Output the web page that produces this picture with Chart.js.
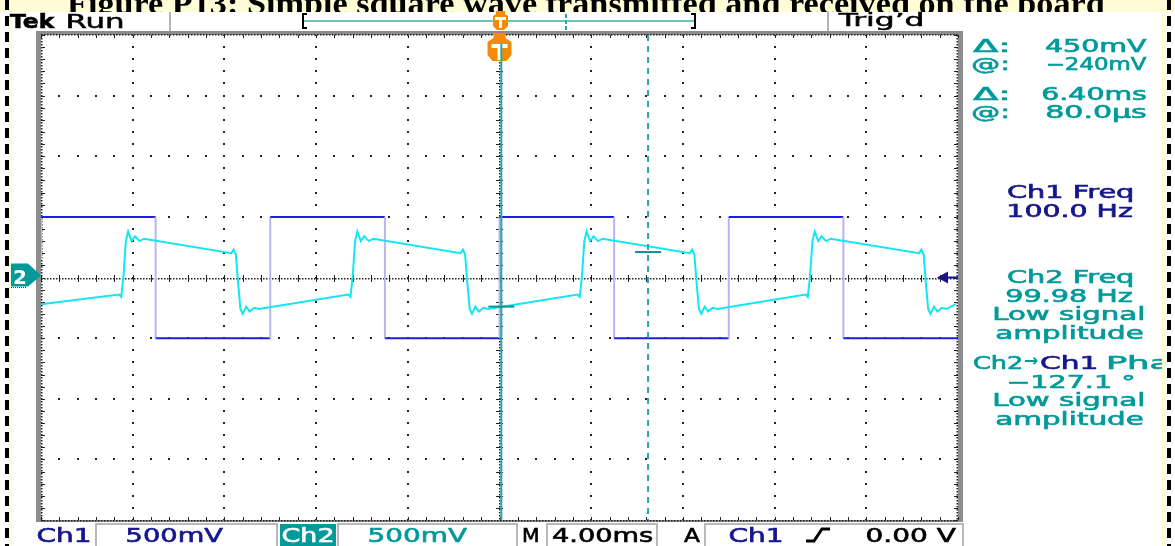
<!DOCTYPE html>
<html>
<head>
<meta charset="utf-8">
<style>
  html, body { margin: 0; padding: 0; background: #fff; }
  canvas { display: block; }
</style>
<script src="https://cdn.jsdelivr.net/npm/chart.js@4.4.1/dist/chart.umd.min.js"></script>
</head>
<body>
<canvas id="scope" width="1175" height="546"></canvas>
<script>
// screen capture values: time in ms (4 ms/div), voltage in V (500 mV/div)
const timeDivs = [-20, -16, -12, -8, -4, 0, 4, 8, 12, 16, 20];
const voltDivs = [-2, -1.5, -1, -0.5, 0, 0.5, 1, 1.5, 2];
const SUBDIV = 5;

// Ch1 - transmitted square wave
const ch1Time = [-20, -20, -15, -15, -10, -10, -5, -5, 0, 0, 5, 5, 10, 10, 15, 15, 20];
const ch1Volt = [0.15, 0.5, 0.5, -0.5, -0.5, 0.5, 0.5, -0.5, -0.5, 0.5, 0.5, -0.5, -0.5, 0.5, 0.5, -0.5, -0.5];

// Ch2 - received signal
const ch2Time = [
  -20.0, -16.6, -16.5, -16.4, -16.3, -16.2, -16.05, -15.9, -15.7, -15.5,
  -11.7, -11.6, -11.5, -11.4, -11.3, -11.2, -11.05, -10.9, -10.7, -10.5,
  -6.6, -6.5, -6.4, -6.3, -6.2, -6.05, -5.9, -5.7, -5.5,
  -1.7, -1.6, -1.5, -1.4, -1.3, -1.2, -1.05, -0.9, -0.7, -0.5,
  3.4, 3.5, 3.6, 3.7, 3.8, 3.95, 4.1, 4.3, 4.5,
  8.3, 8.4, 8.5, 8.6, 8.7, 8.8, 8.95, 9.1, 9.3, 9.5,
  13.35, 13.45, 13.55, 13.65, 13.75, 13.9, 14.05, 14.25, 14.45,
  18.3, 18.4, 18.5, 18.6, 18.7, 18.8, 18.95, 19.1, 19.3, 19.5, 19.9
];
const ch2Volt = [
  -0.22, -0.14, -0.16, 0.02, 0.30, 0.38, 0.30, 0.34, 0.30, 0.32,
  0.20, 0.23, 0.19, -0.05, -0.26, -0.30, -0.24, -0.28, -0.25, -0.26,
  -0.14, -0.16, 0.02, 0.30, 0.38, 0.30, 0.34, 0.30, 0.32,
  0.20, 0.23, 0.19, -0.05, -0.26, -0.30, -0.24, -0.28, -0.25, -0.26,
  -0.14, -0.16, 0.02, 0.30, 0.38, 0.30, 0.34, 0.30, 0.32,
  0.20, 0.23, 0.19, -0.05, -0.26, -0.30, -0.24, -0.28, -0.25, -0.26,
  -0.14, -0.16, 0.02, 0.30, 0.38, 0.30, 0.34, 0.30, 0.32,
  0.20, 0.23, 0.19, -0.05, -0.26, -0.30, -0.24, -0.28, -0.25, -0.26, -0.22
];

// cursors (solid one at 80.0us, dashed one 6.40 ms later) and where they cross Ch2
const cursorTime = [0.08, 6.48];
const cursorVolt = [-0.24, 0.21];
const triggerTime = 0;
const triggerLevel = 0;

const TITLE = 'Figure P13: Simple square wave transmitted and received on the board';
const UI = "'DejaVu Sans', sans-serif";
const TEAL = '#009a9a';
const NAVY = '#16168e';

function pts(xs, ys) {
  return xs.map((x, i) => ({ x: x, y: ys[i] }));
}

// draw text so that its ink spans [x, x + w]
function fitText(ctx, s, x, base, w, font, color, thick) {
  ctx.save();
  ctx.font = font;
  ctx.textAlign = 'left';
  ctx.textBaseline = 'alphabetic';
  const m = ctx.measureText(s);
  const ink = m.actualBoundingBoxLeft + m.actualBoundingBoxRight;
  ctx.translate(x, base);
  ctx.scale(w / ink, 1);
  ctx.fillStyle = color;
  ctx.fillText(s, m.actualBoundingBoxLeft, 0);
  if (thick) {
    ctx.strokeStyle = color;
    ctx.lineWidth = thick;
    ctx.strokeText(s, m.actualBoundingBoxLeft, 0);
  }
  ctx.restore();
}

const backdrop = {
  id: 'backdrop',
  beforeDraw(chart) {
    const ctx = chart.ctx;
    ctx.save();
    ctx.fillStyle = '#fffcd6';
    ctx.fillRect(0, 0, 1175, 12);
    fitText(ctx, TITLE, 67, 14, 1038, 'bold 32px "Liberation Serif", serif', '#000');
    ctx.fillStyle = '#fff';
    ctx.fillRect(0, 12, 1175, 534);
    ctx.fillStyle = '#fffcd6';
    ctx.fillRect(9, 12, 3, 534);
    ctx.fillRect(1162, 12, 4, 534);
    ctx.strokeStyle = '#000';
    ctx.lineWidth = 4;
    ctx.setLineDash([10, 6]);
    ctx.beginPath();
    ctx.moveTo(7, 0); ctx.lineTo(7, 546);
    ctx.moveTo(1169, 0); ctx.lineTo(1169, 546);
    ctx.stroke();
    ctx.restore();
  }
};

const graticule = {
  id: 'graticule',
  beforeDatasetsDraw(chart) {
    const ctx = chart.ctx;
    const { left, right, top, bottom } = chart.chartArea;
    const xs = chart.scales.x, ys = chart.scales.y;
    const tStep = (timeDivs[1] - timeDivs[0]) / SUBDIV;
    const vStep = (voltDivs[1] - voltDivs[0]) / SUBDIV;
    const tMinor = [], vMinor = [];
    for (let i = 0; i <= (timeDivs.length - 1) * SUBDIV; i++) tMinor.push(timeDivs[0] + i * tStep);
    for (let i = 0; i <= (voltDivs.length - 1) * SUBDIV; i++) vMinor.push(voltDivs[0] + i * vStep);
    const cx = Math.round(xs.getPixelForValue(triggerTime));
    const cy = Math.round(ys.getPixelForValue(0));
    ctx.save();
    ctx.fillStyle = '#222';
    // dotted division lines
    timeDivs.slice(1, -1).forEach(t => {
      if (t === 0) return;
      const px = Math.round(xs.getPixelForValue(t));
      vMinor.forEach(v => ctx.fillRect(px - 1, Math.round(ys.getPixelForValue(v)) - 1, 2, 2));
    });
    voltDivs.slice(1, -1).forEach(v => {
      if (v === 0) return;
      const py = Math.round(ys.getPixelForValue(v));
      tMinor.forEach(t => ctx.fillRect(Math.round(xs.getPixelForValue(t)) - 1, py - 1, 2, 2));
    });
    // centre lines: fine dots plus cross ticks
    for (let x = left; x < right; x += 3) ctx.fillRect(x, cy, 1.5, 1.5);
    for (let y = top; y < bottom; y += 3) ctx.fillRect(cx - 1, y, 1.5, 1.5);
    tMinor.forEach(t => ctx.fillRect(Math.round(xs.getPixelForValue(t)), cy - 3, 1, 7));
    vMinor.forEach(v => ctx.fillRect(cx - 4, Math.round(ys.getPixelForValue(v)), 7, 1));
    // frame
    ctx.fillStyle = '#8c8c8c';
    ctx.fillRect(left - 5, top - 4, 5, bottom - top + 6);
    ctx.fillRect(right, top - 4, 5, bottom - top + 6);
    ctx.fillRect(left - 5, top - 4, right - left + 10, 4);
    ctx.fillRect(left - 5, bottom, right - left + 10, 2);
    ctx.fillStyle = '#222';
    for (let x = left; x < right; x += 3) { ctx.fillRect(x, top - 1, 1.5, 1.5); ctx.fillRect(x, bottom, 1.5, 1.5); }
    for (let y = top; y < bottom; y += 3) { ctx.fillRect(left, y, 1.5, 1.5); ctx.fillRect(right - 1.5, y, 1.5, 1.5); }
    tMinor.forEach(t => {
      const px = Math.round(xs.getPixelForValue(t));
      ctx.fillRect(px, top, 1, 3);
      ctx.fillRect(px, bottom - 3, 1, 3);
    });
    vMinor.forEach(v => {
      const py = Math.round(ys.getPixelForValue(v));
      ctx.fillRect(left, py, 4, 1);
      ctx.fillRect(right - 4, py, 4, 1);
    });
    ctx.restore();
  }
};

const overlay = {
  id: 'overlay',
  afterDatasetsDraw(chart) {
    const ctx = chart.ctx;
    const { left, right, top, bottom } = chart.chartArea;
    const xs = chart.scales.x, ys = chart.scales.y;
    ctx.save();
    // cursors
    const c1 = xs.getPixelForValue(cursorTime[0]);
    const c2 = xs.getPixelForValue(cursorTime[1]);
    ctx.strokeStyle = '#2aa6a6';
    ctx.lineWidth = 2;
    ctx.beginPath(); ctx.moveTo(c1, top); ctx.lineTo(c1, bottom); ctx.stroke();
    ctx.setLineDash([6, 5]);
    ctx.beginPath(); ctx.moveTo(c2, top); ctx.lineTo(c2, bottom); ctx.stroke();
    ctx.setLineDash([]);
    ctx.strokeStyle = '#139090';
    cursorTime.forEach((t, i) => {
      const px = xs.getPixelForValue(t), py = ys.getPixelForValue(cursorVolt[i]);
      ctx.beginPath(); ctx.moveTo(px - 13, py); ctx.lineTo(px + 13, py); ctx.stroke();
    });

    // trigger position marker
    const tx = xs.getPixelForValue(triggerTime);
    ctx.fillStyle = '#f58a0a';
    ctx.beginPath();
    [[-6, -2], [6, -2], [6, 3], [12, 7], [12, 20], [7, 26], [-7, 26], [-12, 20], [-12, 7], [-6, 3]]
      .forEach(([dx, dy], i) => i ? ctx.lineTo(tx + dx, top + dy) : ctx.moveTo(tx + dx, top + dy));
    ctx.closePath(); ctx.fill();
    ctx.fillStyle = '#fff';
    ctx.fillRect(tx - 8, top + 9, 16, 4);
    ctx.fillRect(tx - 2, top + 9, 4, 16);
    ctx.strokeStyle = '#2aa6a6';
    ctx.beginPath(); ctx.moveTo(c1, top + 9); ctx.lineTo(c1, top + 26); ctx.stroke();

    // Ch2 ground marker
    const gy = ys.getPixelForValue(0);
    ctx.setLineDash([1, 1]);
    ctx.strokeStyle = '#2a2ad0';
    ctx.lineWidth = 1;
    ctx.beginPath(); ctx.moveTo(11, gy + 10); ctx.lineTo(26, gy + 10); ctx.stroke();
    ctx.setLineDash([]);
    ctx.fillStyle = TEAL;
    ctx.beginPath();
    ctx.moveTo(11, gy - 14); ctx.lineTo(28, gy - 14); ctx.lineTo(41, gy - 2);
    ctx.lineTo(28, gy + 9); ctx.lineTo(11, gy + 9); ctx.closePath(); ctx.fill();
    fitText(ctx, '2', 14, gy + 6, 12, 'bold 20px ' + UI, '#fff');

    // trigger level arrow
    const ty = ys.getPixelForValue(triggerLevel);
    ctx.fillStyle = NAVY;
    ctx.beginPath(); ctx.moveTo(937, ty); ctx.lineTo(948, ty - 6); ctx.lineTo(948, ty + 6); ctx.closePath(); ctx.fill();
    ctx.fillRect(947, ty - 1, right - 947, 2);
    ctx.restore();
  },
  afterDraw(chart) {
    const ctx = chart.ctx;
    ctx.save();
    // header
    fitText(ctx, 'Tek', 10, 28, 45, 'bold 20px ' + UI, '#000', 0.6);
    fitText(ctx, 'Run', 67, 28, 55, '20px ' + UI, '#000', 0.5);
    fitText(ctx, 'Trig’d', 837, 26, 85, '18px ' + UI, '#000', 0.5);
    ctx.fillStyle = '#b4b4b4';
    ctx.fillRect(169, 12, 2, 19);
    ctx.fillRect(827, 12, 2, 19);
    ctx.fillStyle = '#6cc2c2';
    ctx.fillRect(303, 20, 392, 2);
    ctx.fillStyle = '#000';
    ctx.fillRect(302, 13, 2, 16); ctx.fillRect(302, 13, 5, 2); ctx.fillRect(302, 27, 5, 2);
    ctx.fillRect(694, 13, 2, 16); ctx.fillRect(691, 13, 5, 2); ctx.fillRect(691, 27, 5, 2);
    ctx.fillStyle = '#2aa6a6';
    for (let y = 14; y < 30; y += 6) ctx.fillRect(565, y, 2, 4);
    ctx.fillStyle = '#f58a0a';
    ctx.beginPath();
    [[496, 11], [505, 11], [505, 14], [508, 16], [508, 26], [504, 30], [497, 30], [493, 26], [493, 16], [496, 14]]
      .forEach(([x, y], i) => i ? ctx.lineTo(x, y) : ctx.moveTo(x, y));
    ctx.closePath(); ctx.fill();
    ctx.fillStyle = '#fff';
    ctx.fillRect(495, 17, 11, 3);
    ctx.fillRect(499, 17, 3, 11);

    // cursor readouts
    const rf = '17px ' + UI;
    const k = 0.6;
    fitText(ctx, 'Δ:', 973, 52, 34, rf, TEAL, k);
    fitText(ctx, '450mV', 1045, 52, 102, rf, TEAL, k);
    fitText(ctx, '@:', 973, 70, 34, rf, TEAL, k);
    fitText(ctx, '−240mV', 1047, 70, 100, rf, TEAL, k);
    fitText(ctx, 'Δ:', 973, 100, 34, rf, TEAL, k);
    fitText(ctx, '6.40ms', 1043, 100, 104, rf, TEAL, k);
    fitText(ctx, '@:', 973, 118, 34, rf, TEAL, k);
    fitText(ctx, '80.0µs', 1047, 118, 100, rf, TEAL, k);

    // measurements
    fitText(ctx, 'Ch1 Freq', 1007, 198, 126, rf, NAVY, k);
    fitText(ctx, '100.0 Hz', 1008, 217, 125, rf, NAVY, k);
    fitText(ctx, 'Ch2 Freq', 1007, 283, 126, rf, TEAL, k);
    fitText(ctx, '99.98 Hz', 1007, 302, 126, rf, TEAL, k);
    fitText(ctx, 'Low signal', 994, 320, 150, rf, TEAL, k);
    fitText(ctx, 'amplitude', 997, 339, 146, rf, TEAL, k);
    ctx.save();
    ctx.beginPath(); ctx.rect(960, 340, 202, 40); ctx.clip();
    fitText(ctx, 'Ch2', 973, 369, 49, rf, TEAL, k);
    fitText(ctx, '→', 1024, 366, 14, 'bold 17px ' + UI, TEAL);
    fitText(ctx, 'Ch1', 1040, 369, 57, rf, NAVY, k);
    fitText(ctx, 'Pha', 1108, 369, 60, rf, TEAL, k);
    ctx.restore();
    fitText(ctx, '−127.1 °', 1008, 388, 125, rf, TEAL, k);
    fitText(ctx, 'Low signal', 994, 406, 150, rf, TEAL, k);
    fitText(ctx, 'amplitude', 997, 425, 146, rf, TEAL, k);

    // bottom status bar
    ctx.strokeStyle = '#b8b8b8';
    ctx.lineWidth = 2;
    [[96, 277], [338, 517], [547, 657], [705, 963]].forEach(([a, b]) => ctx.strokeRect(a, 524, b - a, 24));
    ctx.fillStyle = TEAL;
    ctx.fillRect(280, 524, 56, 22);
    const bf = '19px ' + UI;
    fitText(ctx, 'Ch1', 38, 542, 52, bf, NAVY, k);
    fitText(ctx, '500mV', 127, 542, 96, bf, NAVY, k);
    fitText(ctx, 'Ch2', 283, 542, 50, bf, '#fff', k);
    fitText(ctx, '500mV', 369, 542, 98, bf, TEAL, k);
    fitText(ctx, 'M', 523, 542, 15, bf, '#000', k);
    fitText(ctx, '4.00ms', 552, 542, 100, bf, '#000', k);
    fitText(ctx, 'A', 684, 542, 16, bf, '#000', k);
    fitText(ctx, 'Ch1', 730, 542, 52, bf, NAVY, k);
    fitText(ctx, '0.00 V', 867, 542, 89, bf, '#000', k);
    ctx.strokeStyle = '#000';
    ctx.lineWidth = 3;
    ctx.beginPath();
    ctx.moveTo(806, 541); ctx.lineTo(814, 541); ctx.lineTo(822, 529); ctx.lineTo(830, 529);
    ctx.stroke();
    ctx.restore();
  }
};

new Chart(document.getElementById('scope'), {
  type: 'line',
  data: {
    datasets: [
      {
        label: 'Ch2',
        data: pts(ch2Time, ch2Volt),
        borderColor: '#12e6f2',
        borderWidth: 2,
        pointRadius: 0,
        tension: 0,
        order: 1
      },
      {
        label: 'Ch1',
        data: pts(ch1Time, ch1Volt),
        borderColor: '#1e1ee6',
        borderWidth: 2,
        pointRadius: 0,
        tension: 0,
        order: 2,
        segment: {
          borderColor: c => c.p0.parsed.x === c.p1.parsed.x ? '#b4b4f6' : '#1e1ee6'
        }
      }
    ]
  },
  options: {
    responsive: false,
    devicePixelRatio: 1,
    animation: false,
    events: [],
    layout: { padding: { left: 41, right: 217, top: 35, bottom: 26 } },
    scales: {
      x: { type: 'linear', min: timeDivs[0], max: timeDivs[timeDivs.length - 1], display: false },
      y: { type: 'linear', min: voltDivs[0], max: voltDivs[voltDivs.length - 1], display: false }
    },
    plugins: { legend: { display: false }, tooltip: { enabled: false } }
  },
  plugins: [backdrop, graticule, overlay]
});
</script>
</body>
</html>
